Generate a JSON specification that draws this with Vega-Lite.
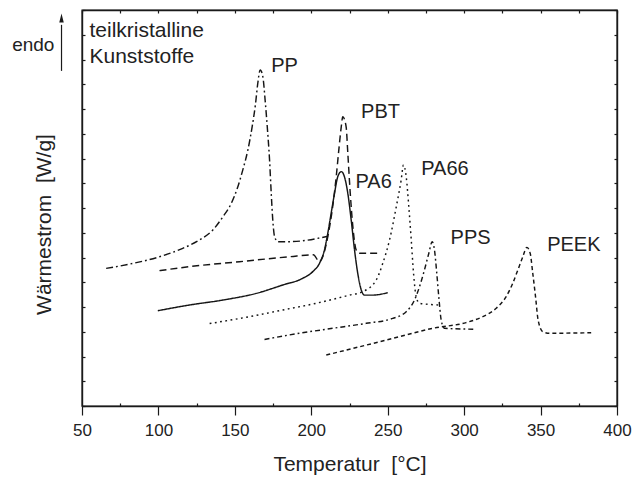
{
  "$schema": "https://vega.github.io/schema/vega-lite/v6.json",
  "width": 535,
  "height": 396,
  "autosize": {"type": "none"},
  "padding": {"left": 82, "top": 10, "right": 17, "bottom": 71},
  "config": {
    "view": {"stroke": "#1a1a1a", "strokeWidth": 1.4},
    "font": "Liberation Sans",
    "axis": {"domainColor": "#1a1a1a", "domainWidth": 1.4, "tickColor": "#1a1a1a", "tickWidth": 1.2, "grid": false, "labelColor": "#222", "titleColor": "#222", "titleFontWeight": "normal", "labelFont": "Liberation Sans", "titleFont": "Liberation Sans"}
  },
  "datasets": {
    "curves": [
      {"s": "PP", "T": 65.8, "v": 5.56}, {"s": "PP", "T": 83.2, "v": 5.76}, {"s": "PP", "T": 100.7, "v": 6.03}, {"s": "PP", "T": 115.9, "v": 6.37}, {"s": "PP", "T": 126.9, "v": 6.71}, {"s": "PP", "T": 135.6, "v": 7.11}, {"s": "PP", "T": 142.1, "v": 7.64}, {"s": "PP", "T": 147.6, "v": 8.18}, {"s": "PP", "T": 151.9, "v": 8.85}, {"s": "PP", "T": 155.2, "v": 9.54}, {"s": "PP", "T": 158.5, "v": 10.34}, {"s": "PP", "T": 161.3, "v": 11.28}, {"s": "PP", "T": 163.5, "v": 12.2}, {"s": "PP", "T": 165.0, "v": 13.04}, {"s": "PP", "T": 166.6, "v": 13.58}, {"s": "PP", "T": 168.3, "v": 13.31}, {"s": "PP", "T": 169.8, "v": 12.36}, {"s": "PP", "T": 171.2, "v": 11.28}, {"s": "PP", "T": 172.7, "v": 9.94}, {"s": "PP", "T": 173.8, "v": 8.59}, {"s": "PP", "T": 174.8, "v": 7.52}, {"s": "PP", "T": 176.0, "v": 6.84}, {"s": "PP", "T": 178.1, "v": 6.64}, {"s": "PP", "T": 185.7, "v": 6.64}, {"s": "PP", "T": 211.0, "v": 6.86},
      {"s": "PBT", "T": 100.7, "v": 5.47}, {"s": "PBT", "T": 120.3, "v": 5.63}, {"s": "PBT", "T": 153.0, "v": 5.83}, {"s": "PBT", "T": 185.7, "v": 6.03}, {"s": "PBT", "T": 201.4, "v": 6.11}, {"s": "PBT", "T": 205.3, "v": 5.83}, {"s": "PBT", "T": 207.5, "v": 6.03}, {"s": "PBT", "T": 210.8, "v": 6.84}, {"s": "PBT", "T": 213.7, "v": 7.92}, {"s": "PBT", "T": 216.3, "v": 9.26}, {"s": "PBT", "T": 218.0, "v": 10.34}, {"s": "PBT", "T": 219.6, "v": 11.28}, {"s": "PBT", "T": 220.6, "v": 11.69}, {"s": "PBT", "T": 222.8, "v": 11.28}, {"s": "PBT", "T": 223.9, "v": 10.21}, {"s": "PBT", "T": 225.5, "v": 8.59}, {"s": "PBT", "T": 227.2, "v": 7.24}, {"s": "PBT", "T": 229.4, "v": 6.3}, {"s": "PBT", "T": 231.5, "v": 6.17}, {"s": "PBT", "T": 245.7, "v": 6.17},
      {"s": "PA6", "T": 99.6, "v": 3.85}, {"s": "PA6", "T": 120.3, "v": 4.08}, {"s": "PA6", "T": 142.1, "v": 4.28}, {"s": "PA6", "T": 164.0, "v": 4.55}, {"s": "PA6", "T": 181.4, "v": 4.89}, {"s": "PA6", "T": 194.4, "v": 5.16}, {"s": "PA6", "T": 201.0, "v": 5.43}, {"s": "PA6", "T": 205.4, "v": 5.77}, {"s": "PA6", "T": 208.6, "v": 6.3}, {"s": "PA6", "T": 210.8, "v": 6.98}, {"s": "PA6", "T": 213.0, "v": 7.79}, {"s": "PA6", "T": 215.2, "v": 8.59}, {"s": "PA6", "T": 217.3, "v": 9.26}, {"s": "PA6", "T": 219.6, "v": 9.47}, {"s": "PA6", "T": 221.7, "v": 9.26}, {"s": "PA6", "T": 223.9, "v": 8.59}, {"s": "PA6", "T": 226.1, "v": 7.52}, {"s": "PA6", "T": 228.3, "v": 6.3}, {"s": "PA6", "T": 230.4, "v": 5.36}, {"s": "PA6", "T": 232.7, "v": 4.69}, {"s": "PA6", "T": 234.8, "v": 4.48}, {"s": "PA6", "T": 240.2, "v": 4.48}, {"s": "PA6", "T": 250.0, "v": 4.58},
      {"s": "PA66", "T": 133.5, "v": 3.33}, {"s": "PA66", "T": 159.6, "v": 3.61}, {"s": "PA66", "T": 181.4, "v": 3.88}, {"s": "PA66", "T": 203.2, "v": 4.15}, {"s": "PA66", "T": 225.0, "v": 4.48}, {"s": "PA66", "T": 233.7, "v": 4.62}, {"s": "PA66", "T": 242.5, "v": 5.09}, {"s": "PA66", "T": 246.8, "v": 5.77}, {"s": "PA66", "T": 251.2, "v": 6.71}, {"s": "PA66", "T": 255.6, "v": 8.05}, {"s": "PA66", "T": 258.8, "v": 9.13}, {"s": "PA66", "T": 260.3, "v": 9.74}, {"s": "PA66", "T": 262.1, "v": 9.26}, {"s": "PA66", "T": 263.8, "v": 8.05}, {"s": "PA66", "T": 265.4, "v": 6.71}, {"s": "PA66", "T": 266.9, "v": 5.36}, {"s": "PA66", "T": 268.6, "v": 4.42}, {"s": "PA66", "T": 270.8, "v": 4.15}, {"s": "PA66", "T": 283.9, "v": 4.08},
      {"s": "PPS", "T": 169.4, "v": 2.69}, {"s": "PPS", "T": 192.3, "v": 2.94}, {"s": "PPS", "T": 214.1, "v": 3.14}, {"s": "PPS", "T": 235.9, "v": 3.34}, {"s": "PPS", "T": 253.3, "v": 3.54}, {"s": "PPS", "T": 262.1, "v": 3.81}, {"s": "PPS", "T": 267.5, "v": 4.28}, {"s": "PPS", "T": 270.8, "v": 4.82}, {"s": "PPS", "T": 274.0, "v": 5.49}, {"s": "PPS", "T": 276.9, "v": 6.17}, {"s": "PPS", "T": 279.1, "v": 6.64}, {"s": "PPS", "T": 280.6, "v": 6.3}, {"s": "PPS", "T": 282.1, "v": 5.36}, {"s": "PPS", "T": 283.4, "v": 4.42}, {"s": "PPS", "T": 285.0, "v": 3.47}, {"s": "PPS", "T": 287.1, "v": 3.14}, {"s": "PPS", "T": 307.9, "v": 3.1},
      {"s": "PEEK", "T": 209.8, "v": 2.06}, {"s": "PEEK", "T": 235.9, "v": 2.46}, {"s": "PEEK", "T": 257.7, "v": 2.8}, {"s": "PEEK", "T": 279.5, "v": 3.14}, {"s": "PEEK", "T": 301.3, "v": 3.37}, {"s": "PEEK", "T": 312.2, "v": 3.61}, {"s": "PEEK", "T": 321.0, "v": 3.95}, {"s": "PEEK", "T": 327.5, "v": 4.42}, {"s": "PEEK", "T": 331.8, "v": 4.96}, {"s": "PEEK", "T": 335.1, "v": 5.49}, {"s": "PEEK", "T": 338.4, "v": 6.03}, {"s": "PEEK", "T": 341.0, "v": 6.41}, {"s": "PEEK", "T": 343.2, "v": 6.17}, {"s": "PEEK", "T": 344.9, "v": 5.36}, {"s": "PEEK", "T": 346.7, "v": 4.42}, {"s": "PEEK", "T": 348.4, "v": 3.47}, {"s": "PEEK", "T": 351.5, "v": 3.0}, {"s": "PEEK", "T": 355.8, "v": 2.94}, {"s": "PEEK", "T": 383.1, "v": 2.96}
    ],
    "peakLabels": [
      {"label": "PP", "T": 173.8, "v": 13.51},
      {"label": "PBT", "T": 232.6, "v": 11.62},
      {"label": "PA6", "T": 228.9, "v": 8.8},
      {"label": "PA66", "T": 271.9, "v": 9.33},
      {"label": "PPS", "T": 291.1, "v": 6.55},
      {"label": "PEEK", "T": 354.3, "v": 6.27}
    ],
    "note": [
      {"label": "teilkristalline", "T": 54.9, "v": 14.9},
      {"label": "Kunststoffe", "T": 54.9, "v": 13.85}
    ],
    "endo": [
      {"label": "endo", "T": 4.3, "v": 14.36}
    ]
  },
  "layer": [
    {
      "data": {"name": "curves"},
      "mark": {"type": "line", "interpolate": "monotone", "strokeWidth": 1.45, "color": "#151515", "strokeCap": "butt"},
      "encoding": {
        "x": {"field": "T", "type": "quantitative", "scale": {"domain": [50, 400], "nice": false, "zero": false},
          "axis": {"orient": "bottom", "values": [50, 75, 100, 125, 150, 175, 200, 225, 250, 275, 300, 325, 350, 375, 400],
            "tickSize": {"condition": {"test": "datum.value % 50 === 0", "value": 9}, "value": -3},
            "labelExpr": "datum.value % 50 === 0 ? datum.label : ''",
            "labelFontSize": 17, "labelPadding": 7, "labelBaseline": "top", "labelOverlap": false, "labelFlush": false,
            "title": "Temperatur\u00a0 [°C]", "titleFontSize": 21, "titleY": 64, "titleBaseline": "alphabetic"}},
        "y": {"field": "v", "type": "quantitative", "scale": {"domain": [0, 16], "nice": false, "zero": false},
          "axis": {"orient": "left", "values": [0, 1, 2, 3, 4, 5, 6, 7, 8, 9, 10, 11, 12, 13, 14, 15, 16], "tickSize": -3, "labels": false,
            "title": "Wärmestrom\u00a0 [W/g]", "titleFontSize": 21, "titleAngle": -90, "titleX": -32, "titleY": 214, "titleBaseline": "alphabetic", "titleAlign": "center"}},
        "strokeDash": {"field": "s", "type": "nominal", "legend": null,
          "scale": {"domain": ["PP", "PBT", "PA6", "PA66", "PPS", "PEEK"], "range": [[7, 3, 1.8, 3], [7, 4], [1, 0], [1.8, 3.5], [5, 3, 1.8, 3], [4, 3]]}}
      }
    },
    {
      "data": {"name": "peakLabels"},
      "mark": {"type": "text", "align": "left", "baseline": "alphabetic", "fontSize": 20, "color": "#222", "font": "Liberation Sans"},
      "encoding": {
        "x": {"field": "T", "type": "quantitative", "axis": {"orient": "top", "values": [50, 75, 100, 125, 150, 175, 200, 225, 250, 275, 300, 325, 350, 375, 400], "tickSize": -3, "labels": false, "title": null}},
        "y": {"field": "v", "type": "quantitative", "axis": {"orient": "right", "values": [0, 1, 2, 3, 4, 5, 6, 7, 8, 9, 10, 11, 12, 13, 14, 15, 16], "tickSize": -3, "labels": false, "title": null}},
        "text": {"field": "label"}
      }
    },
    {
      "data": {"name": "note"},
      "mark": {"type": "text", "align": "left", "baseline": "alphabetic", "fontSize": 21, "color": "#222", "font": "Liberation Sans"},
      "encoding": {
        "x": {"field": "T", "type": "quantitative", "axis": null},
        "y": {"field": "v", "type": "quantitative", "axis": null},
        "text": {"field": "label"}
      }
    },
    {
      "data": {"name": "endo"},
      "mark": {"type": "text", "align": "left", "baseline": "alphabetic", "fontSize": 19, "color": "#222", "font": "Liberation Sans"},
      "encoding": {
        "x": {"field": "T", "type": "quantitative", "axis": null},
        "y": {"field": "v", "type": "quantitative", "axis": null},
        "text": {"field": "label"}
      }
    },
    {
      "data": {"values": [{"T": 36.6, "v": 13.54, "v2": 15.4}]},
      "mark": {"type": "rule", "strokeWidth": 1.2, "color": "#1a1a1a"},
      "encoding": {
        "x": {"field": "T", "type": "quantitative", "axis": null},
        "y": {"field": "v", "type": "quantitative", "axis": null},
        "y2": {"field": "v2"}
      }
    },
    {
      "data": {"values": [{"T": 36.6, "v": 15.68}]},
      "mark": {"type": "point", "shape": "M0,-1L0.5,1L-0.5,1Z", "size": 81, "filled": true, "color": "#1a1a1a", "opacity": 1},
      "encoding": {
        "x": {"field": "T", "type": "quantitative", "axis": null},
        "y": {"field": "v", "type": "quantitative", "axis": null}
      }
    }
  ],
  "resolve": {"axis": {"x": "independent", "y": "independent"}}
}
